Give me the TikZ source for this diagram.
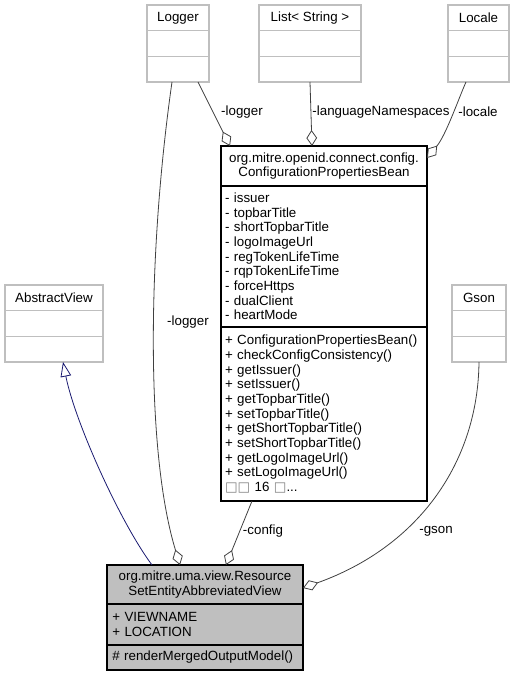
\documentclass[tikz,border=0pt]{standalone}
\usepackage{fontspec}
\setmainfont{Liberation Sans}
\newfontfamily\boxglyphs{DejaVu Sans}
\usepackage{xcolor}
\usepackage{tikz}
\usetikzlibrary{shapes,arrows.meta,positioning,calc}

\definecolor{boxgray}{HTML}{BFBFBF}
\definecolor{edgegray}{HTML}{404040}
\definecolor{inhblue}{HTML}{191970}
\definecolor{fillgray}{HTML}{BFBFBF}
\newcommand{\umlfont}{\fontsize{10}{11}\selectfont}
\newcommand{\nochar}{{\boxglyphs\color{gray}\char"25A1}}

\begin{document}
\begin{tikzpicture}[x=0.75pt, y=-0.75pt, node distance=0pt,
    part/.style={rectangle, draw=boxgray, fill=white, line width=0.8pt, inner xsep=3pt, inner ysep=0pt, outer sep=0pt, font=\umlfont},
    lpart/.style={part, minimum width=#1, minimum height=19.25pt},
    dpart/.style={part, draw=black, text width=#1, align=left},
    dtitle/.style={dpart=#1, align=center},
    aggr/.style={draw=edgegray, line width=0.6pt, -{Diamond[open, length=12pt, width=8pt]}},
    inherit/.style={draw=inhblue, line width=0.6pt, -{Triangle[open, length=11pt, width=8pt]}},
    lbl/.style={font=\umlfont, inner sep=1pt}]

    \useasboundingbox (0,0) rectangle (514,676);

    % used classes
    \node[lpart=46.5pt, anchor=north west] (logger) at (147,5) {Logger};
    \node[lpart=46.5pt, below=of logger] (loggerA) {};
    \node[lpart=46.5pt, below=of loggerA] (loggerB) {};

    \node[lpart=76.5pt, anchor=north west] (list) at (259,5) {List< String >};
    \node[lpart=76.5pt, below=of list] (listA) {};
    \node[lpart=76.5pt, below=of listA] (listB) {};

    \node[lpart=45.75pt, anchor=north west] (locale) at (448,5) {Locale};
    \node[lpart=45.75pt, below=of locale] (localeA) {};
    \node[lpart=45.75pt, below=of localeA] (localeB) {};

    \node[lpart=73.5pt, anchor=north west] (absview) at (5,285) {AbstractView};
    \node[lpart=73.5pt, below=of absview] (absviewA) {};
    \node[lpart=73.5pt, below=of absviewA] (absviewB) {};

    \node[lpart=40.5pt, anchor=north west] (gson) at (452,285) {Gson};
    \node[lpart=40.5pt, below=of gson] (gsonA) {};
    \node[lpart=40.5pt, below=of gsonA] (gsonB) {};

    % configuration bean
    \node[dtitle=148.5pt, minimum height=30pt, anchor=north west] (config) at (221,146)
        {org.mitre.openid.connect.config.\\ConfigurationPropertiesBean};
    \node[dpart=148.5pt, minimum height=105.75pt, below=of config] (configA)
        {- issuer\\- topbarTitle\\- shortTopbarTitle\\- logoImageUrl\\- regTokenLifeTime\\- rqpTokenLifeTime\\- forceHttps\\- dualClient\\- heartMode};
    \node[dpart=148.5pt, minimum height=130.5pt, below=of configA] (configB)
        {+ ConfigurationPropertiesBean()\\+ checkConfigConsistency()\\+ getIssuer()\\+ setIssuer()\\+ getTopbarTitle()\\+ setTopbarTitle()\\+ getShortTopbarTitle()\\+ setShortTopbarTitle()\\+ getLogoImageUrl()\\+ setLogoImageUrl()\\\nochar\nochar{} 16 \nochar...};

    % the view
    \node[dtitle=141pt, fill=fillgray, minimum height=29.25pt, anchor=north west] (view) at (107,565)
        {org.mitre.uma.view.Resource\\SetEntityAbbreviatedView};
    \node[dpart=139pt, fill=fillgray, inner xsep=4pt, minimum height=30.75pt, below=of view] (viewA)
        {+ VIEWNAME\\+ LOCATION};
    \node[dpart=139pt, fill=fillgray, inner xsep=4pt, minimum height=18.75pt, below=of viewA] (viewB)
        {\# renderMergedOutputModel()};

    % connectors
    \draw[aggr] ($(loggerB.south)+(20,0)$) -- ($(config.north)+(-94,0)$);
    \draw[aggr] ($(listB.south)+(0,0)$) -- ($(config.north)+(-12,0)$);
    \draw[aggr] ($(localeB.south)+(-12.5,0)$) .. controls ($(localeB.south)+(-20.5,18)$) and ($(localeB.south)+(-32.5,53)$) .. ($(config.north east)+(0,12)$);
    \draw[aggr] ($(loggerB.south)+(-6,0)$) .. controls ($(loggerB.south)+(-30,168)$) and ($(loggerB.south)+(-33,368)$) .. ($(view.north)+(-25,0)$);
    \draw[inherit] ($(view.north)+(-53,0)$) .. controls ($(view.north)+(-85,-43)$) and ($(view.north)+(-130,-143)$) .. ($(absviewB.south)+(9,0)$);
    \draw[aggr] ($(configB.south)+(-72,0)$) -- ($(view.north)+(21,0)$);
    \draw[aggr] (gsonB.south) .. controls ($(gsonB.south)+(-1,99)$) and ($(gsonB.south)+(-59,184)$) .. ($(view.north east)+(0,23)$);

    % role labels
    \node[lbl] (lblLoggerCfg) at (242,112) {-logger};
    \node[lbl] (lblLangNs) at (381,112) {-languageNamespaces};
    \node[lbl] (lblLocale) at (478,112) {-locale};
    \node[lbl] (lblLoggerView) at (188,322) {-logger};
    \node[lbl] (lblConfig) at (263,531) {-config};
    \node[lbl] (lblGson) at (436,531) {-gson};

\end{tikzpicture}
\end{document}
